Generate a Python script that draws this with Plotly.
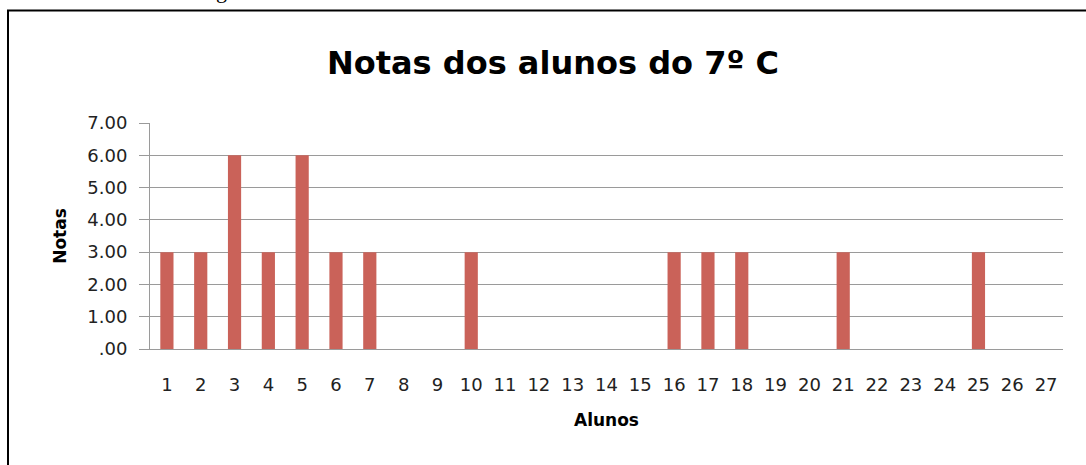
import plotly.graph_objects as go

alunos = [str(i) for i in range(1, 28)]
notas = [3, 3, 6, 3, 6, 3, 3, 0, 0, 3, 0, 0, 0, 0, 0, 3, 3, 3, 0, 0, 3, 0, 0, 0, 3, 0, 0]
y_ticks = [0, 1, 2, 3, 4, 5, 6, 7]
y_labels = [".00", "1.00", "2.00", "3.00", "4.00", "5.00", "6.00", "7.00"]

FONT = "DejaVu Sans, sans-serif"
W, H = 1086, 465
L, R, T, B = 150, 23, 123, 116
pw, ph = W - L - R, H - T - B

fig = go.Figure(go.Bar(x=alunos, y=notas, marker=dict(color="#CA6259", line=dict(width=0)), width=0.39))

fig.update_layout(
    width=W, height=H,
    margin=dict(l=L, r=R, t=T, b=B, autoexpand=False),
    paper_bgcolor="white", plot_bgcolor="white",
    font=dict(family=FONT, color="#222222", size=18),
    showlegend=False,
    title=dict(text="<b>Notas dos alunos do 7º C</b>", x=553 / W, xanchor="center",
               y=1 - 63 / H, yanchor="middle", font=dict(size=32, color="black", family=FONT)),
    xaxis=dict(type="category", range=[-0.5, 26.5], showgrid=False, showline=True,
               linecolor="#9a9a9a", linewidth=1, ticks="", tickfont=dict(size=18, color="#222"),
               ticklabelstandoff=19,
               title=dict(text="<b>Alunos</b>", font=dict(size=17, color="black"), standoff=20)),
    yaxis=dict(range=[0, 7], tickvals=y_ticks, ticktext=y_labels, showgrid=True,
               gridcolor="#9a9a9a", gridwidth=1, showline=True, linecolor="#9a9a9a", linewidth=1,
               ticks="outside", ticklen=10, tickcolor="#9a9a9a", tickfont=dict(size=18, color="#222"),
               ticklabelstandoff=8,
               title=dict(text="<b>Notas</b>", font=dict(size=17, color="black"), standoff=16),
               zeroline=False),
    bargap=0.6,
)

# outer frame of the chart (document border)
fig.add_shape(type="rect", xref="paper", yref="paper",
              x0=(8 - L) / pw, x1=(1095 - L) / pw,
              y0=(T + ph - 475) / ph, y1=(T + ph - 10.5) / ph,
              line=dict(color="black", width=2), fillcolor="rgba(0,0,0,0)", layer="below")

# partial text above the frame (cut off in the source)
fig.add_annotation(text="g", xref="paper", yref="paper", x=(221 - L) / pw, y=(T + ph - 5) / ph,
                   xanchor="center", yanchor="bottom", showarrow=False,
                   font=dict(family="Liberation Serif", size=22, color="black"))

fig.write_html("out.html", config={"displayModeBar": False},
               post_script="document.body.style.margin='0px';document.body.style.padding='0px';")
